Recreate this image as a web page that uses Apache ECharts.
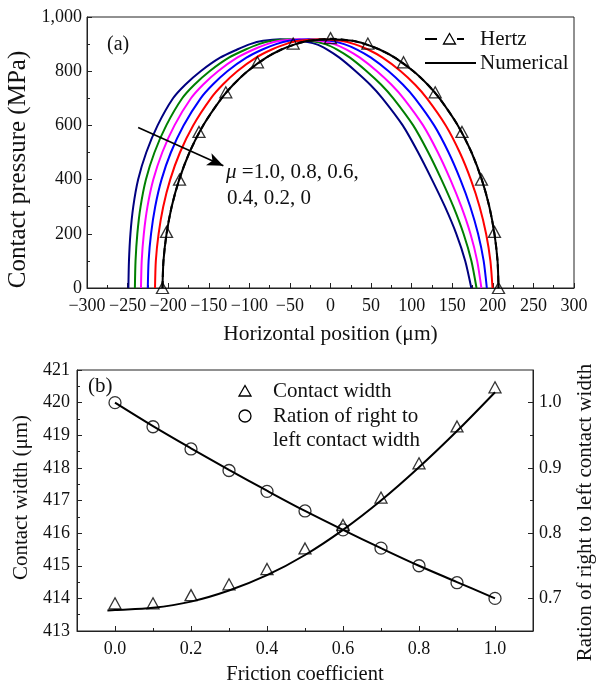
<!DOCTYPE html>
<html>
<head>
<meta charset="utf-8">
<script src="https://cdn.jsdelivr.net/npm/echarts@6/dist/echarts.min.js"></script>
<style>
  html, body { margin: 0; padding: 0; background: #fff; }
  #chart { width: 596px; height: 684px; }
</style>
</head>
<body>
<div id="chart"></div>
<script>
// ---- (a) contact pressure profiles ----
// pressure levels (MPa) shared by the numerical profiles, from the left edge over the peak to the right edge
const pressureLevels = [0, 100, 200, 300, 400, 500, 600, 700, 750, 800, 850, 880, 900, 912, 918,
                        912, 900, 880, 850, 800, 750, 700, 600, 500, 400, 300, 200, 100, 0];
// horizontal positions (um) of each numerical profile at those levels
const xMu10 = [-249, -248.3, -246.5, -243, -237, -227, -213, -194, -179, -160, -136, -115, -99, -83, -62,
               -38, -18, -4, 11, 31, 49, 64, 89, 108, 125, 141, 155, 166, 173.5];
const xMu08 = [-241, -240.2, -238, -234, -227.4, -216.9, -202.3, -182.7, -167.8, -149, -125.2, -104.6, -88.3, -72.4, -50.2,
               -25.6, -6.4, 8.2, 24, 44.5, 62.5, 77.4, 101.9, 120.5, 136.7, 151.4, 163.9, 173.6, 179.9];
const xMu06 = [-233.5, -232.6, -230, -225.5, -218.3, -207.3, -192.2, -171.9, -157.1, -138.6, -115, -94.8, -78.2, -62.4, -39.1,
               -13.9, 4.5, 19.8, 36.2, 57.3, 75.2, 90, 114.1, 132.3, 147.7, 161.2, 172.4, 180.7, 185.9];
const xMu04 = [-225.1, -224.1, -221.1, -216, -208.2, -196.7, -181, -160, -145.3, -127.1, -103.6, -83.9, -67, -51.2, -26.7,
               -0.8, 16.7, 32.7, 49.9, 71.6, 89.4, 104.1, 127.7, 145.5, 160, 172.2, 181.8, 188.7, 192.6];
const xMu02 = [-216.2, -215.2, -211.8, -206.1, -197.5, -185.5, -169.2, -147.4, -132.9, -114.9, -91.7, -72.4, -55.2, -39.5, -13.6,
               12.9, 29.5, 46.2, 64.2, 86.5, 104.3, 118.8, 142, 159.3, 172.9, 183.7, 191.7, 197, 199.6];
const xMu00 = [-207, -205.8, -202, -195.7, -186.4, -173.8, -156.9, -134.3, -119.9, -102.2, -79.2, -60.4, -42.9, -27.2, 0,
               27.2, 42.9, 60.4, 79.2, 102.2, 119.9, 134.3, 156.9, 173.8, 186.4, 195.7, 202, 205.8, 207];
// Hertz solution: curve and its symbols
const hertzCurveX = [-207, -205.8, -202, -195.7, -186.4, -173.8, -156.9, -134.3, -119.9, -102.2, -79.2, -60.4, -42.9, -27.2, 0,
                     27.2, 42.9, 60.4, 79.2, 102.2, 119.9, 134.3, 156.9, 173.8, 186.4, 195.7, 202, 205.8, 207];
const hertzCurveP = [0, 100, 200, 300, 400, 500, 600, 700, 750, 800, 850, 880, 900, 912, 920,
                     912, 900, 880, 850, 800, 750, 700, 600, 500, 400, 300, 200, 100, 0];
const hertzPointX = [-207, -202, -186, -162, -129, -90, -46, 0, 46, 90, 129, 162, 186, 202, 207];
const hertzPointP = [0, 207, 400, 576, 722, 833, 902, 922, 902, 833, 722, 576, 400, 207, 0];
// friction arrow (data units)
const arrowFrom = [-237, 592];
const arrowTo = [-132, 451];

// ---- (b) contact width and width ratio ----
const friction = [0.0, 0.1, 0.2, 0.3, 0.4, 0.5, 0.6, 0.7, 0.8, 0.9, 1.0];
const widthPoints = [413.85, 413.85, 414.1, 414.43, 414.9, 415.53, 416.25, 417.09, 418.14, 419.27, 420.47];
const widthFitX = [-0.02, 0.0, 0.1, 0.2, 0.3, 0.4, 0.5, 0.6, 0.7, 0.8, 0.9, 1.0];
const widthFitY = [413.63, 413.64, 413.71, 413.9, 414.24, 414.71, 415.33, 416.1, 417.0, 418.02, 419.13, 420.32];
const ratioPoints = [1.0, 0.963, 0.929, 0.896, 0.864, 0.834, 0.805, 0.777, 0.750, 0.724, 0.700];
const ratioFit = [1.0, 0.964, 0.930, 0.897, 0.865, 0.834, 0.805, 0.777, 0.750, 0.725, 0.700];

// tick positions
const frictionLabels = [0.0, 0.2, 0.4, 0.6, 0.8, 1.0];
const frictionMinor = [0.1, 0.3, 0.5, 0.7, 0.9];
const ratioLabels = [0.7, 0.8, 0.9, 1.0];
const ratioMinor = [0.75, 0.85, 0.95];

const FONT = '"Liberation Serif", "Times New Roman", serif';
const INK = '#111';
const FRAME = '#222';

const zip = (xs, ys) => xs.map((x, i) => [x, ys[i]]);
const minus = v => String(v).replace('-', '\u2212');

const tickLabel = { color: INK, fontFamily: FONT, fontSize: 18, hideOverlap: false, showMinLabel: true, showMaxLabel: true };
const axisLine = { show: true, onZero: false, lineStyle: { color: FRAME, width: 1 } };

const profiles = [
  { name: 'mu1.0', xs: xMu10, color: '#000080' },
  { name: 'mu0.8', xs: xMu08, color: '#008000' },
  { name: 'mu0.6', xs: xMu06, color: '#ff00ff' },
  { name: 'mu0.4', xs: xMu04, color: '#0000ff' },
  { name: 'mu0.2', xs: xMu02, color: '#ff0000' },
  { name: 'mu0', xs: xMu00, color: '#000000' }
];

const series = profiles.map(p => ({
  type: 'line', name: p.name, xAxisIndex: 0, yAxisIndex: 0,
  data: zip(p.xs, pressureLevels), smooth: 0.25, symbol: 'none',
  lineStyle: { color: p.color, width: 2 }, z: 2
}));

series[0].markLine = {
  silent: true, symbol: ['none', 'arrow'], symbolSize: [10, 16],
  label: { show: false },
  lineStyle: { color: '#000', width: 1.6, type: 'solid' },
  data: [[{ coord: arrowFrom }, { coord: arrowTo }]]
};

series.push({
  type: 'line', name: 'Hertz', xAxisIndex: 0, yAxisIndex: 0,
  data: zip(hertzCurveX, hertzCurveP), smooth: 0.25, symbol: 'none',
  lineStyle: { color: '#000', width: 2, type: [7, 4] }, z: 3
});
series.push({
  type: 'scatter', name: 'Hertz points', xAxisIndex: 0, yAxisIndex: 0,
  data: zip(hertzPointX, hertzPointP), symbol: 'triangle', symbolSize: [12, 11],
  itemStyle: { color: 'rgba(255,255,255,0)', borderColor: '#000', borderWidth: 1.3 }, z: 4
});

series.push({
  type: 'line', name: 'Contact width fit', xAxisIndex: 1, yAxisIndex: 1,
  data: zip(widthFitX, widthFitY), smooth: 0.35, symbol: 'none',
  lineStyle: { color: '#000', width: 2 }, z: 2
});
series.push({
  type: 'scatter', name: 'Contact width', xAxisIndex: 1, yAxisIndex: 1,
  data: zip(friction, widthPoints), symbol: 'triangle', symbolSize: [12, 11],
  itemStyle: { color: 'rgba(255,255,255,0)', borderColor: '#000', borderWidth: 1.3 }, z: 3
});
series.push({
  type: 'line', name: 'Ratio fit', xAxisIndex: 1, yAxisIndex: 2,
  data: zip(friction, ratioFit), smooth: 0.35, symbol: 'none',
  lineStyle: { color: '#000', width: 2 }, z: 2
});
series.push({
  type: 'scatter', name: 'Ration of right to left contact width', xAxisIndex: 1, yAxisIndex: 2,
  data: zip(friction, ratioPoints), symbol: 'circle', symbolSize: 12,
  itemStyle: { color: 'rgba(255,255,255,0)', borderColor: '#000', borderWidth: 1.3 }, z: 3
});

const txt = (text, x, y, size, extra) => ({
  type: 'text', x, y, silent: true, z: 10,
  style: Object.assign({ text, fill: INK, fontFamily: FONT, fontSize: size, align: 'left', verticalAlign: 'middle' }, extra || {})
});
const seg = (x1, y1, x2, y2, w) => ({
  type: 'line', silent: true, z: 10, shape: { x1, y1, x2, y2 }, style: { stroke: '#000', lineWidth: w }
});
const tri = (cx, cy) => ({
  type: 'polygon', silent: true, z: 10,
  shape: { points: [[cx, cy - 5.5], [cx - 6, cy + 5], [cx + 6, cy + 5]] },
  style: { fill: 'rgba(255,255,255,0)', stroke: '#000', lineWidth: 1.3 }
});

const option = {
  animation: false,
  backgroundColor: '#fff',
  grid: [
    { left: 87, top: 17, width: 487, height: 271, show: true, borderColor: FRAME, borderWidth: 1, backgroundColor: 'transparent', outerBoundsMode: 'none' },
    { left: 77, top: 370, width: 456, height: 261, show: true, borderColor: FRAME, borderWidth: 1, backgroundColor: 'transparent', outerBoundsMode: 'none' }
  ],
  xAxis: [
    {
      gridIndex: 0, type: 'value', min: -300, max: 300, interval: 50,
      axisLine, splitLine: { show: false },
      axisTick: { show: true, inside: true, length: 5, lineStyle: { color: FRAME } },
      minorTick: { show: true, splitNumber: 2, length: 3, lineStyle: { color: FRAME } },
      axisLabel: Object.assign({ margin: 9, formatter: minus }, tickLabel),
      name: 'Horizontal position (\u03bcm)', nameLocation: 'middle', nameGap: 35,
      nameTextStyle: { color: INK, fontFamily: FONT, fontSize: 21.5 }
    },
    {
      gridIndex: 1, type: 'value', min: -0.1, max: 1.1,
      axisLine, splitLine: { show: false },
      axisTick: { show: true, inside: true, length: 5, customValues: frictionLabels, lineStyle: { color: FRAME } },
      axisLabel: Object.assign({ margin: 9, customValues: frictionLabels, formatter: v => v.toFixed(1) }, tickLabel),
      name: 'Friction coefficient', nameLocation: 'middle', nameGap: 33,
      nameTextStyle: { color: INK, fontFamily: FONT, fontSize: 20.5 }
    },
    {
      gridIndex: 1, type: 'value', min: -0.1, max: 1.1, position: 'bottom',
      axisLine: { show: false, onZero: false }, splitLine: { show: false },
      axisTick: { show: true, inside: true, length: 3, customValues: frictionMinor, lineStyle: { color: FRAME } },
      axisLabel: { show: false }
    }
  ],
  yAxis: [
    {
      gridIndex: 0, type: 'value', min: 0, max: 1000, interval: 200,
      axisLine, splitLine: { show: false },
      axisTick: { show: true, inside: true, length: 5, lineStyle: { color: FRAME } },
      minorTick: { show: true, splitNumber: 2, length: 3, lineStyle: { color: FRAME } },
      axisLabel: Object.assign({ margin: 5, formatter: v => v.toLocaleString('en-US') }, tickLabel),
      name: 'Contact pressure (MPa)', nameLocation: 'middle', nameGap: 50, nameRotate: 90,
      nameTextStyle: { color: INK, fontFamily: FONT, fontSize: 25, padding: [0, 34, 0, 0] }
    },
    {
      gridIndex: 1, type: 'value', min: 413, max: 421, interval: 1,
      axisLine, splitLine: { show: false },
      axisTick: { show: true, inside: true, length: 5, lineStyle: { color: FRAME } },
      minorTick: { show: true, splitNumber: 2, length: 3, lineStyle: { color: FRAME } },
      axisLabel: Object.assign({ margin: 7 }, tickLabel),
      name: 'Contact width (\u03bcm)', nameLocation: 'middle', nameGap: 43, nameRotate: 90,
      nameTextStyle: { color: INK, fontFamily: FONT, fontSize: 21, padding: [0, 0, 0, 6] }
    },
    {
      gridIndex: 1, type: 'value', position: 'right', min: 0.65, max: 1.05,
      axisLine, splitLine: { show: false },
      axisTick: { show: true, inside: true, length: 5, customValues: ratioLabels, lineStyle: { color: FRAME } },
      axisLabel: Object.assign({ margin: 6, customValues: ratioLabels, formatter: v => v.toFixed(1) }, tickLabel),
      name: 'Ration of right to left contact width', nameLocation: 'middle', nameGap: 42, nameRotate: 90,
      nameTextStyle: { color: INK, fontFamily: FONT, fontSize: 21, padding: [0, 24, 0, 0] }
    },
    {
      gridIndex: 1, type: 'value', position: 'right', min: 0.65, max: 1.05,
      axisLine: { show: false, onZero: false }, splitLine: { show: false },
      axisTick: { show: true, inside: true, length: 3, customValues: ratioMinor, lineStyle: { color: FRAME } },
      axisLabel: { show: false }
    }
  ],
  series,
  graphic: [
    txt('(a)', 107, 45, 20),
    seg(425, 39, 437, 39, 2), tri(449.5, 39), seg(457, 39, 464, 39, 2),
    txt('Hertz', 480, 39, 21),
    seg(425, 63, 476, 63, 2),
    txt('Numerical', 480, 63, 21),
    {
      type: 'text', x: 226, y: 172, silent: true, z: 10,
      style: {
        text: '{m|\u03bc} =1.0, 0.8, 0.6,', fill: INK, fontFamily: FONT, fontSize: 21,
        align: 'left', verticalAlign: 'middle',
        rich: { m: { fontStyle: 'italic', fontFamily: FONT, fontSize: 21, fill: INK } }
      }
    },
    txt('0.4, 0.2, 0', 227, 198, 21),
    txt('(b)', 88, 386, 21),
    tri(245, 391), txt('Contact width', 273, 391, 21),
    { type: 'circle', silent: true, z: 10, shape: { cx: 245, cy: 416, r: 6 }, style: { fill: 'rgba(255,255,255,0)', stroke: '#000', lineWidth: 1.3 } },
    txt('Ration of right to', 273, 416, 21),
    txt('left contact width', 273, 440, 21)
  ]
};

const chart = echarts.init(document.getElementById('chart'), null, { renderer: 'canvas' });
chart.setOption(option);
</script>
</body>
</html>
